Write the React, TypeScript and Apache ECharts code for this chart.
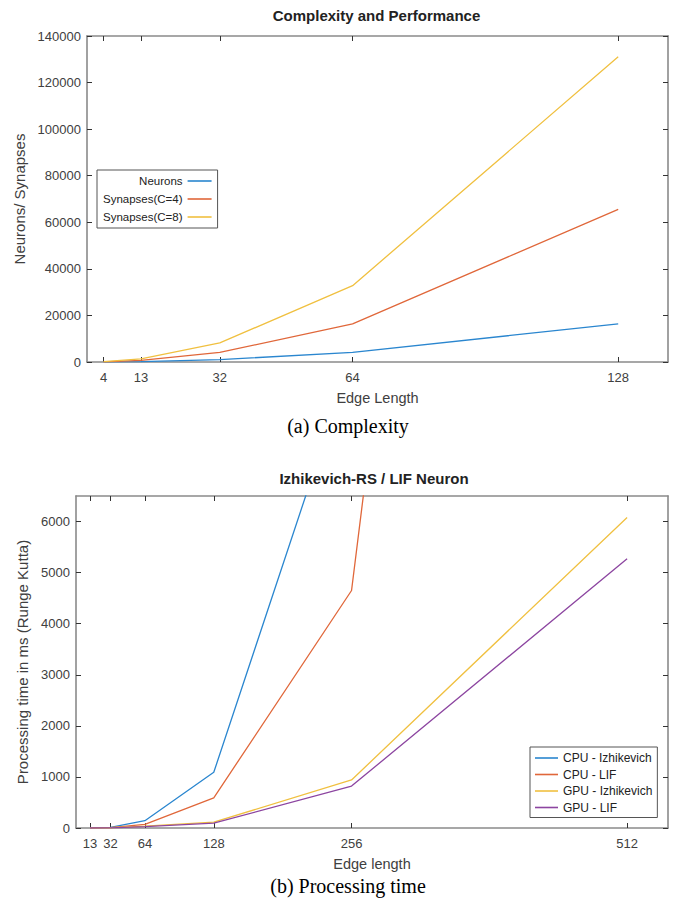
import React, { useEffect, useRef } from "react";
import * as echarts from "echarts";

// ---- Chart (a): Complexity ----
const edgeA = [4, 13, 32, 64, 128];
const neurons = [16, 169, 1024, 4096, 16384];
const synapsesC4 = [64, 676, 4096, 16384, 65536];
const synapsesC8 = [128, 1352, 8192, 32768, 131072];
const yTicksA = [0, 20000, 40000, 60000, 80000, 100000, 120000, 140000];

// ---- Chart (b): Processing time ----
const edgeB = [13, 32, 64, 128, 256, 512];
const cpuIzh = [2, 12, 143, 1090, 9200];
const cpuLif = [1, 8, 70, 590, 4650, 48000];
const gpuIzh = [0, 5, 35, 115, 940, 6080];
const gpuLif = [0, 3, 25, 95, 820, 5270];
const yTicksB = [0, 1000, 2000, 3000, 4000, 5000, 6000];

const namesA = ["Neurons", "Synapses(C=4)", "Synapses(C=8)"];
const namesB = ["CPU - Izhikevich", "CPU - LIF", "GPU - Izhikevich", "GPU - LIF"];

const BLUE = "#2a86cf";
const ORANGE = "#e0673a";
const YELLOW = "#f0c040";
const PURPLE = "#8c45a0";

const FONT = "Liberation Sans";
const AXIS_COLOR = "#8a8a8a";
const LABEL_COLOR = "#404040";

function pairs(xs: number[], ys: number[]) {
  return ys.map((y, i) => [xs[i], y]);
}

export default function App() {
  const ref = useRef<HTMLDivElement>(null);
  useEffect(() => {
    if (!ref.current) return;
    const chart = echarts.init(ref.current, null, { renderer: "svg" });

    const axisLine = { show: true, onZero: false, lineStyle: { color: AXIS_COLOR, width: 1.6 } };
    const tickStyle = { lineStyle: { color: "#333", width: 1 } };
    const labelStyle = {
      color: LABEL_COLOR,
      fontFamily: FONT,
      fontSize: 13,
      formatter: (v: number) => String(v),
    };
    const nameStyle = { color: LABEL_COLOR, fontFamily: FONT, fontSize: 14.5 };

    const mkX = (grid: number, min: number, max: number, ticks: number[], name: string) => [
      {
        type: "value",
        gridIndex: grid,
        min,
        max,
        position: "bottom",
        name,
        nameLocation: "middle",
        nameGap: 28,
        nameTextStyle: nameStyle,
        axisLine,
        axisTick: { show: true, inside: true, length: 5, customValues: ticks, ...tickStyle },
        axisLabel: { show: true, customValues: ticks, margin: 9, ...labelStyle },
        splitLine: { show: false },
      },
      {
        type: "value",
        gridIndex: grid,
        min,
        max,
        position: "top",
        axisLine,
        axisTick: { show: true, inside: true, length: 5, customValues: ticks, ...tickStyle },
        axisLabel: { show: false },
        splitLine: { show: false },
      },
    ];

    const mkY = (grid: number, min: number, max: number, ticks: number[], name: string, gap: number) => [
      {
        type: "value",
        gridIndex: grid,
        min,
        max,
        position: "left",
        name,
        nameLocation: "middle",
        nameGap: gap,
        nameRotate: 90,
        nameTextStyle: { ...nameStyle, fontSize: 15 },
        axisLine,
        axisTick: { show: true, inside: true, length: 5, customValues: ticks, ...tickStyle },
        axisLabel: { show: true, customValues: ticks, margin: 6, ...labelStyle },
        splitLine: { show: false },
      },
      {
        type: "value",
        gridIndex: grid,
        min,
        max,
        position: "right",
        axisLine,
        axisTick: { show: true, inside: true, length: 5, customValues: ticks, ...tickStyle },
        axisLabel: { show: false },
        splitLine: { show: false },
      },
    ];

    const line = (name: string, color: string, data: number[][], xi: number, yi: number) => ({
      type: "line",
      name,
      data,
      xAxisIndex: xi,
      yAxisIndex: yi,
      symbol: "none",
      showSymbol: false,
      clip: true,
      lineStyle: { color, width: 1.3 },
      itemStyle: { color },
    });

    chart.setOption({
      animation: false,
      backgroundColor: "#ffffff",
      title: [
        {
          text: "Complexity and Performance",
          left: 371.5,
          top: 3,
          textAlign: "center",
          textStyle: { fontFamily: FONT, fontSize: 15, fontWeight: "bold", color: "#222" },
        },
        {
          text: "Izhikevich-RS / LIF Neuron",
          left: 369,
          top: 466,
          textAlign: "center",
          textStyle: { fontFamily: FONT, fontSize: 15, fontWeight: "bold", color: "#222" },
        },
      ],
      grid: [
        { left: 87, top: 36, width: 581, height: 326 },
        { left: 76, top: 496, width: 592, height: 332 },
      ],
      xAxis: [...mkX(0, 0, 140, edgeA, "Edge Length"), ...mkX(1, 0, 550, edgeB, "Edge length")],
      yAxis: [
        ...mkY(0, 0, 140000, yTicksA, "Neurons/ Synapses", 58),
        ...mkY(1, 0, 6500, yTicksB, "Processing time in ms (Runge Kutta)", 44),
      ],
      legend: [
        {
          data: namesA,
          orient: "vertical",
          left: 97,
          top: 170,
          align: "right",
          icon: "rect",
          itemWidth: 24,
          itemHeight: 1.6,
          itemGap: 6,
          padding: [5, 6, 5, 6],
          borderColor: "#555",
          borderWidth: 1,
          backgroundColor: "#fff",
          textStyle: { fontFamily: FONT, fontSize: 11.5, color: "#222" },
        },
        {
          data: namesB,
          orient: "vertical",
          left: 530,
          top: 747,
          align: "left",
          icon: "rect",
          itemWidth: 23,
          itemHeight: 1.6,
          itemGap: 4.5,
          padding: [5, 5, 4, 5],
          borderColor: "#555",
          borderWidth: 1,
          backgroundColor: "#fff",
          textStyle: { fontFamily: FONT, fontSize: 12, color: "#222" },
        },
      ],
      series: [
        line(namesA[0], BLUE, pairs(edgeA, neurons), 0, 0),
        line(namesA[1], ORANGE, pairs(edgeA, synapsesC4), 0, 0),
        line(namesA[2], YELLOW, pairs(edgeA, synapsesC8), 0, 0),
        line(namesB[0], BLUE, pairs(edgeB, cpuIzh), 2, 2),
        line(namesB[1], ORANGE, pairs(edgeB, cpuLif), 2, 2),
        line(namesB[2], YELLOW, pairs(edgeB, gpuIzh), 2, 2),
        line(namesB[3], PURPLE, pairs(edgeB, gpuLif), 2, 2),
      ],
      graphic: [
        {
          type: "text",
          x: 348,
          y: 426,
          style: {
            text: "(a) Complexity",
            fontFamily: "Liberation Serif",
            fontSize: 20,
            fill: "#000",
            align: "center",
            verticalAlign: "middle",
          },
        },
        {
          type: "text",
          x: 348,
          y: 886,
          style: {
            text: "(b) Processing time",
            fontFamily: "Liberation Serif",
            fontSize: 20,
            fill: "#000",
            align: "center",
            verticalAlign: "middle",
          },
        },
      ],
    });
    return () => chart.dispose();
  }, []);
  return (
    <div
      ref={ref}
      style={{ position: "absolute", left: 0, top: 0, width: 673, height: 904, background: "#fff" }}
    />
  );
}
